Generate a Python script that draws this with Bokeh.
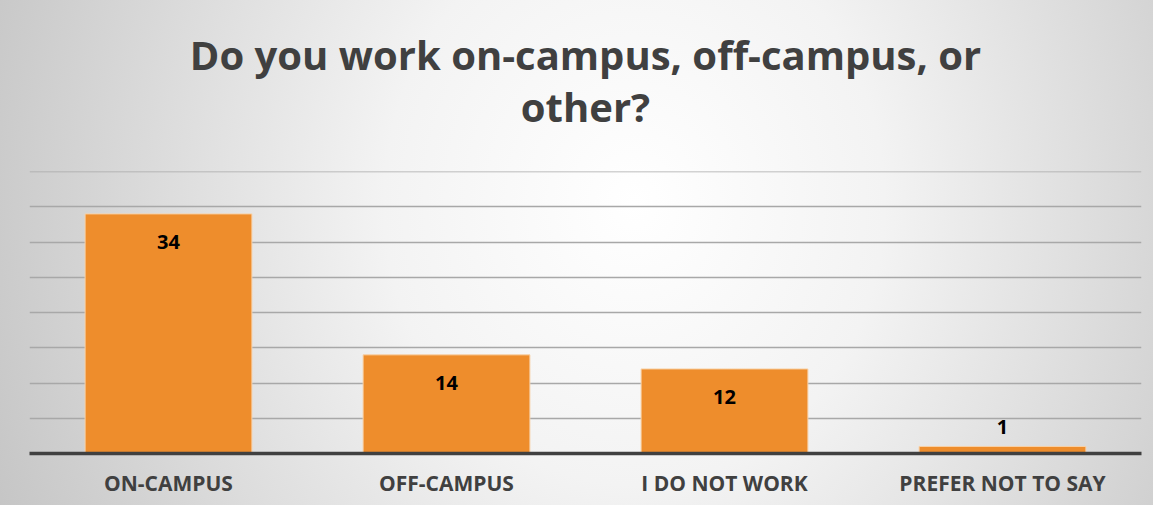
from bokeh.plotting import figure
from bokeh.models import ColumnDataSource, FactorRange, SingleIntervalTicker, Title, Range1d
from bokeh.core.properties import value
from bokeh.embed import file_html
from bokeh.resources import INLINE

categories = ["ON-CAMPUS", "OFF-CAMPUS", "I DO NOT WORK", "PREFER NOT TO SAY"]
counts = [34, 14, 12, 1]
title_lines = ["Do you work on-campus, off-campus, or", "other?"]

FONT = "Open Sans"
TEXT_COL = "#404040"

offsets = [28 if v > 4 else -19 for v in counts]
src = ColumnDataSource(dict(cat=categories, val=counts,
                            lab=[str(v) for v in counts], off=offsets))

p = figure(width=1153, height=505, output_backend="svg", toolbar_location=None,
           x_range=FactorRange(factors=categories, range_padding=0),
           y_range=Range1d(0, 40.02),
           min_border_left=29, min_border_right=12, min_border_top=171,
           min_border_bottom=52)

p.styles = {"background-image": "radial-gradient(ellipse 62% 160% at 55% 40%, #ffffff 0%, #f3f3f3 35%, #c3c3c3 100%)"}
p.background_fill_alpha = 0
p.border_fill_alpha = 0
p.outline_line_color = None

p.vbar(x="cat", top="val", width=0.6, source=src, fill_color="#EE8D2C",
       line_color="#F8D2A8", line_width=1)
p.text(x="cat", y="val", text="lab", y_offset="off", source=src,
       text_align="center", text_baseline="middle", text_font=value(FONT),
       text_font_style="bold", text_font_size="20px", text_color="#000000")

p.ygrid.ticker = SingleIntervalTicker(interval=5)
p.ygrid.grid_line_color = "#a8a8a8"
p.ygrid.grid_line_width = 1.3
p.xgrid.grid_line_color = None
p.yaxis.visible = False

ax = p.xaxis[0]
ax.axis_line_color = "#404040"
ax.axis_line_width = 3.5
ax.major_tick_line_color = None
ax.minor_tick_line_color = None
ax.major_label_text_font = FONT
ax.major_label_text_font_style = "bold"
ax.major_label_text_font_size = "21px"
ax.major_label_text_color = TEXT_COL
ax.major_label_standoff = 9

for line, so in zip(reversed(title_lines), [76, -86]):
    p.add_layout(Title(text=line, align="center", text_font=FONT,
                       text_font_style="bold", text_font_size="40px",
                       text_color=TEXT_COL, standoff=so), "above")

open("out.html", "w").write(file_html(p, INLINE))
